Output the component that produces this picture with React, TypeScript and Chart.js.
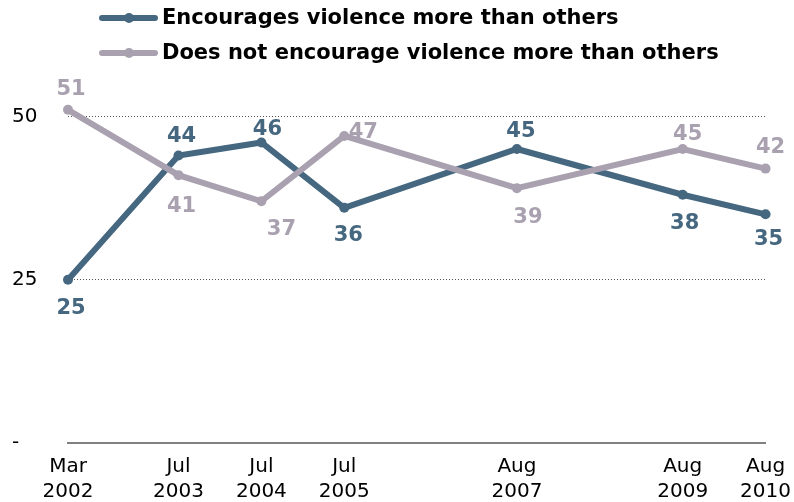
import React, { useEffect, useRef } from "react";
import { Chart, registerables } from "chart.js";

Chart.register(...registerables);

// ---- Data ----
const surveyMonths = ["Mar", "Jul", "Jul", "Jul", "Aug", "Aug", "Aug"];
const surveyYears = [2002, 2003, 2004, 2005, 2007, 2009, 2010];
const encourages = [25, 44, 46, 36, 45, 38, 35];
const doesNotEncourage = [51, 41, 37, 47, 39, 45, 42];
const yTickValues = [0, 25, 50];
const yTickLabels = ["-", "25", "50"];
const seriesNames = [
  "Encourages violence more than others",
  "Does not encourage violence more than others",
];

// ---- Styling (label offsets relative to their points) ----
const BLUE = "#45677f";
const GRAY = "#aaa1b0";
const FONT = "DejaVu Sans";
const labelDxBlue = [3, 3, 6, 4, 4, 2, 3];
const labelDyBlue = [27, -21, -15, 26, -20, 27, 23];
const labelDxGray = [3, 3, 20, 19, 11, 5, 5];
const labelDyGray = [-22, 29, 26, -6, 27, -17, -23];

const MONTH_NAMES = ["Jan", "Feb", "Mar", "Apr", "May", "Jun", "Jul", "Aug", "Sep", "Oct", "Nov", "Dec"];
const xPositions = surveyYears.map((y, i) => y + MONTH_NAMES.indexOf(surveyMonths[i]) / 12);

const valueLabelPlugin = {
  id: "valueLabels",
  afterDatasetsDraw(chart: any) {
    const ctx = chart.ctx;
    const all = [encourages, doesNotEncourage];
    const colors = [BLUE, GRAY];
    const dxs = [labelDxBlue, labelDxGray];
    const dys = [labelDyBlue, labelDyGray];
    ctx.save();
    ctx.font = `bold 21px "${FONT}"`;
    ctx.textAlign = "center";
    ctx.textBaseline = "alphabetic";
    for (let d = 0; d < 2; d++) {
      const meta = chart.getDatasetMeta(d);
      meta.data.forEach((pt: any, i: number) => {
        ctx.fillStyle = colors[d];
        // center of digit cap-height at pt.y + dy
        ctx.fillText(String(all[d][i]), pt.x + dxs[d][i], pt.y + dys[d][i] + 7.6);
      });
    }
    ctx.restore();
  },
};

const legendPlugin = {
  id: "customLegend",
  afterDraw(chart: any) {
    const ctx = chart.ctx;
    const items = [
      { color: BLUE, y: 18, text: seriesNames[0] },
      { color: GRAY, y: 53, text: seriesNames[1] },
    ];
    ctx.save();
    items.forEach((it) => {
      ctx.strokeStyle = it.color;
      ctx.fillStyle = it.color;
      ctx.lineWidth = 6;
      ctx.lineCap = "round";
      ctx.beginPath();
      ctx.moveTo(102, it.y);
      ctx.lineTo(155, it.y);
      ctx.stroke();
      ctx.beginPath();
      ctx.arc(129, it.y, 5, 0, Math.PI * 2);
      ctx.fill();
      ctx.fillStyle = "#000";
      ctx.font = `bold 21px "${FONT}"`;
      ctx.textAlign = "left";
      ctx.textBaseline = "middle";
      ctx.fillText(it.text, 162, it.y + 1);
    });
    ctx.restore();
  },
};

export default function App() {
  const ref = useRef<HTMLCanvasElement | null>(null);
  useEffect(() => {
    if (!ref.current) return;
    const chart = new Chart(ref.current, {
      type: "line",
      data: {
        datasets: [
          {
            label: seriesNames[0],
            data: xPositions.map((x, i) => ({ x, y: encourages[i] })),
            borderColor: BLUE,
            backgroundColor: BLUE,
            borderWidth: 6,
            pointRadius: 5,
            pointBorderWidth: 0,
            pointBackgroundColor: BLUE,
            tension: 0,
            clip: false,
            order: 1,
          },
          {
            label: seriesNames[1],
            data: xPositions.map((x, i) => ({ x, y: doesNotEncourage[i] })),
            borderColor: GRAY,
            backgroundColor: GRAY,
            borderWidth: 6,
            pointRadius: 5,
            pointBorderWidth: 0,
            pointBackgroundColor: GRAY,
            tension: 0,
            clip: false,
            order: 0,
          },
        ],
      },
      options: {
        responsive: false,
        animation: false,
        layout: { padding: { left: 12, right: 28, top: 51, bottom: 0 } },
        plugins: { legend: { display: false }, tooltip: { enabled: false } },
        scales: {
          x: {
            type: "linear",
            min: xPositions[0],
            max: xPositions[xPositions.length - 1],
            afterBuildTicks: (s: any) => {
              s.ticks = xPositions.map((v) => ({ value: v }));
            },
            afterFit: (s: any) => {
              s.height = 59;
            },
            grid: { display: false },
            border: { display: true, color: "#808080", width: 2 },
            ticks: {
              autoSkip: false,
              maxRotation: 0,
              padding: 3,
              color: "#000",
              font: { family: FONT, size: 20, lineHeight: 1.25 },
              callback: (_v: any, i: number) => [surveyMonths[i], String(surveyYears[i])],
            },
          },
          y: {
            min: 0,
            max: 60,
            afterBuildTicks: (s: any) => {
              s.ticks = yTickValues.map((v) => ({ value: v }));
            },
            afterFit: (s: any) => {
              s.width = 56;
            },
            grid: {
              drawTicks: false,
              lineWidth: 1,
              color: (c: any) => (c.tick && c.tick.value === 0 ? "rgba(0,0,0,0)" : "#555"),
            },
            border: { display: false, dash: [1, 2] },
            ticks: {
              crossAlign: "far",
              padding: 0,
              color: "#000",
              font: { family: FONT, size: 20 },
              callback: (v: any) => yTickLabels[yTickValues.indexOf(v)],
            },
          },
        },
      },
      plugins: [valueLabelPlugin, legendPlugin],
    } as any);
    return () => chart.destroy();
  }, []);
  return (
    <div style={{ position: "fixed", left: 0, top: 0, width: 794, height: 502, background: "#fff" }}>
      <canvas ref={ref} width={794} height={502} />
    </div>
  );
}
